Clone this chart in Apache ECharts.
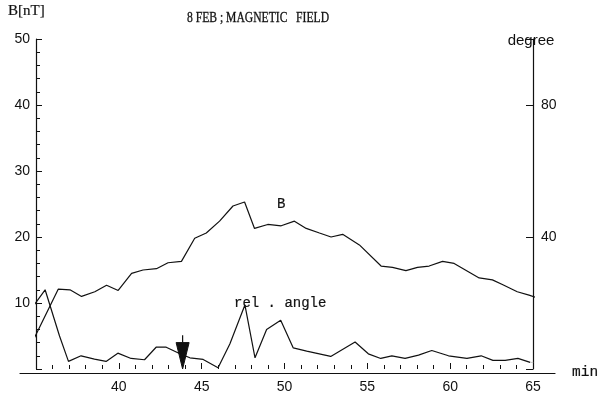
<!DOCTYPE html>
<html>
<head>
<meta charset="utf-8">
<script src="https://cdn.jsdelivr.net/npm/echarts@6/dist/echarts.min.js"></script>
<style>
  html, body { margin: 0; padding: 0; background: #fff; }
  #chart { width: 608px; height: 394px; }
</style>
</head>
<body>
<div id="chart"></div>
<script>
// Magnetic field magnitude B [nT] versus time [min]
const minutesB = [34.84, 36.34, 37.05, 37.75, 38.55, 39.26, 39.96, 40.77, 41.46, 42.27,
  42.97, 43.78, 44.58, 45.28, 46.08, 46.89, 47.59, 48.19, 48.99, 49.80,
  50.60, 51.31, 52.11, 52.81, 53.51, 54.52, 55.83, 56.52, 57.33, 58.03,
  58.73, 59.54, 60.24, 61.75, 62.55, 63.15, 64.05, 64.76, 65.50];
const fieldB = [4.4, 12.1, 12.0, 11.0, 11.7, 12.7, 11.9, 14.5, 15.0, 15.2,
  16.1, 16.3, 19.8, 20.6, 22.4, 24.7, 25.3, 21.3, 21.9, 21.7,
  22.4, 21.3, 20.6, 20.0, 20.4, 18.8, 15.6, 15.4, 14.9, 15.4,
  15.6, 16.3, 16.0, 13.8, 13.5, 12.8, 11.7, 11.2, 10.6];

// Relative field angle [degree] versus time [min]
const minutesAngle = [34.80, 35.55, 36.42, 36.96, 37.72, 38.53, 39.23, 39.94, 40.74, 41.55,
  42.25, 42.86, 43.69, 44.29, 45.09, 45.99, 46.70, 47.61, 48.22, 48.92,
  49.77, 50.53, 51.34, 52.79, 54.26, 55.06, 55.81, 56.48, 57.28, 58.09,
  58.89, 59.90, 61.01, 61.87, 62.58, 63.32, 64.09, 64.83];
const relAngle = [18.8, 24.0, 10.0, 2.3, 4.0, 3.0, 2.3, 4.8, 3.2, 2.8,
  6.6, 6.6, 4.6, 3.4, 2.9, 0.4, 7.6, 19.4, 3.4, 12.0,
  14.8, 6.4, 5.4, 3.8, 8.2, 4.6, 3.2, 4.0, 3.2, 4.2,
  5.6, 4.0, 3.2, 4.0, 2.6, 2.6, 3.2, 2.0];
// faint continuation past the last full sample
const tailMinutes = [64.83, 65.60];
const tailAngle = [2.0, 2.0];

// event marker (arrow) time and shaft extent in nT units
const markerMinute = [43.85];
const markerTop = [5.1];
const markerHeadTop = [4.0];

const xTicks = { min: 35, max: 65, interval: 5 };
const leftTicks = { min: 0, max: 50, interval: 10 };
const rightTicks = { min: 0, max: 100, interval: 40 };

const INK = '#111';
const SANS = '"Liberation Sans", Arial, sans-serif';
const SERIF = '"Liberation Serif", "Times New Roman", serif';
const MONO = '"Liberation Mono", "Courier New", monospace';

const pairs = (xs, ys) => xs.map((x, i) => [x, ys[i]]);

const chart = echarts.init(document.getElementById('chart'), null, { renderer: 'canvas' });

chart.setOption({
  animation: false,
  backgroundColor: '#fff',
  grid: [
    { left: 36, right: 75, top: 39, bottom: 21 },
    { left: 20, right: 53, top: 39, bottom: 21 }
  ],
  xAxis: [
    {
      type: 'value', gridIndex: 0,
      min: xTicks.min, max: xTicks.max, interval: xTicks.interval,
      axisLine: { show: false },
      axisTick: { show: true, inside: true, length: 6, lineStyle: { color: INK, width: 1 } },
      minorTick: { show: true, splitNumber: 5, length: 4, lineStyle: { color: INK, width: 1 } },
      axisLabel: { color: INK, fontFamily: SANS, fontSize: 14, margin: 11, showMinLabel: false },
      splitLine: { show: false }
    },
    {
      type: 'value', gridIndex: 1, min: 0, max: 1,
      axisLine: { show: true, lineStyle: { color: INK, width: 1.2 } },
      axisTick: { show: false }, axisLabel: { show: false }, splitLine: { show: false }
    }
  ],
  yAxis: [
    {
      type: 'value', gridIndex: 0, position: 'left',
      min: leftTicks.min, max: leftTicks.max, interval: leftTicks.interval,
      axisLine: { show: true, lineStyle: { color: INK, width: 1.2 } },
      axisTick: { show: true, inside: true, length: 6, lineStyle: { color: INK, width: 1 } },
      minorTick: { show: true, splitNumber: 5, length: 4, lineStyle: { color: INK, width: 1 } },
      axisLabel: { color: INK, fontFamily: SANS, fontSize: 14, margin: 6, showMinLabel: false },
      splitLine: { show: false }
    },
    {
      type: 'value', gridIndex: 0, position: 'right',
      min: rightTicks.min, max: rightTicks.max, interval: rightTicks.interval,
      name: 'degree', nameLocation: 'end', nameGap: -2,
      nameTextStyle: { color: INK, fontFamily: SANS, fontSize: 15, verticalAlign: 'middle', align: 'center', padding: [0, 4, 0, 0] },
      axisLine: { show: true, lineStyle: { color: INK, width: 1.2 } },
      axisTick: { show: true, inside: true, length: 7, lineStyle: { color: INK, width: 1 } },
      axisLabel: {
        color: INK, fontFamily: SANS, fontSize: 14, margin: 8,
        formatter: v => (v === 40 || v === 80) ? String(v) : ''
      },
      splitLine: { show: false }
    },
    {
      type: 'value', gridIndex: 1, show: false, min: 0, max: 1
    }
  ],
  series: [
    {
      name: 'B', type: 'line', xAxisIndex: 0, yAxisIndex: 0,
      data: pairs(minutesB, fieldB), showSymbol: false, clip: false,
      lineStyle: { color: INK, width: 1.2 }
    },
    {
      name: 'rel. angle', type: 'line', xAxisIndex: 0, yAxisIndex: 1,
      data: pairs(minutesAngle, relAngle), showSymbol: false, clip: false,
      lineStyle: { color: INK, width: 1.2 }
    },
    {
      name: 'rel. angle tail', type: 'line', xAxisIndex: 0, yAxisIndex: 1,
      data: pairs(tailMinutes, tailAngle), showSymbol: false, clip: false,
      lineStyle: { color: '#c8c8c8', width: 1, type: [3, 4] }
    },
    {
      name: 'marker', type: 'custom', xAxisIndex: 0, yAxisIndex: 0, clip: false,
      data: markerMinute.map((m, i) => [m, markerTop[i], markerHeadTop[i]]),
      renderItem: (params, api) => {
        const t = api.value(0);
        const top = api.coord([t, api.value(1)]);
        const head = api.coord([t, api.value(2)]);
        const tip = api.coord([t, 0]);
        const hw = 6.5;
        return {
          type: 'group',
          children: [
            { type: 'line', shape: { x1: top[0], y1: top[1], x2: head[0], y2: head[1] },
              style: { stroke: INK, lineWidth: 1.2 } },
            { type: 'polygon', shape: { points: [[head[0] - hw, head[1]], [head[0] + hw, head[1]], [tip[0], tip[1]]] },
              style: { fill: INK, stroke: INK, lineWidth: 1 } }
          ]
        };
      }
    }
  ],
  graphic: [
    { type: 'text', x: 8, y: 4,
      style: { text: 'B[nT]', fill: INK, stroke: INK, lineWidth: 0.2, font: '15px ' + SERIF } },
    { type: 'text', x: 187, y: 11, scaleX: 0.83,
      style: { text: '8 FEB ; MAGNETIC   FIELD', fill: INK, stroke: INK, lineWidth: 0.3, font: '14px ' + SERIF } },
    { type: 'text', x: 277, y: 197,
      style: { text: 'B', fill: INK, stroke: INK, lineWidth: 0.2, font: '14px ' + MONO } },
    { type: 'text', x: 234, y: 296,
      style: { text: 'rel . angle', fill: INK, stroke: INK, lineWidth: 0.2, font: '14px ' + MONO } },
    { type: 'text', x: 572, y: 365,
      style: { text: 'min', fill: INK, stroke: INK, lineWidth: 0.2, font: '14.5px ' + MONO } }
  ]
});
</script>
</body>
</html>
